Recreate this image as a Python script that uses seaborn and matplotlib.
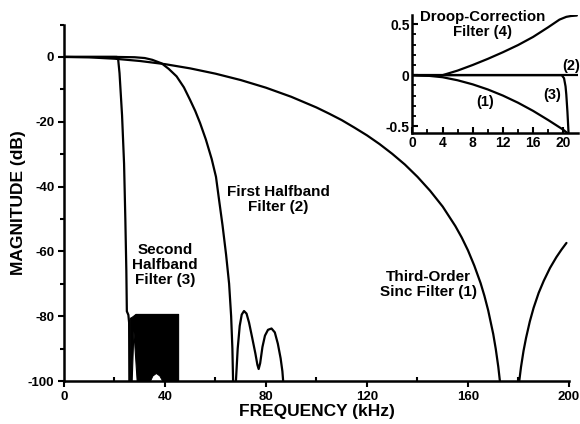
import matplotlib
matplotlib.use("Agg")
import matplotlib.pyplot as plt
import seaborn as sns
from matplotlib.ticker import MultipleLocator, FixedLocator

# ---------------- data ----------------
# Third-order sinc filter (1)
sinc_freq = [0, 10, 20, 30, 40, 50, 60, 70, 80, 90, 100, 105, 110, 115, 120, 125,
             130, 135, 140, 145, 150, 155, 157.5, 160, 162.5, 165, 166.5, 168, 170,
             171, 172, 173, 176.4, 180, 181, 182, 183, 184.5, 186, 188, 190,
             192.5, 195, 197, 199]
sinc_db = [0, -0.14, -0.55, -1.25, -2.23, -3.54, -5.17, -7.14, -9.5, -12.3, -15.6,
           -17.5, -19.5, -21.8, -24.2, -26.9, -29.9, -33.2, -37.0, -41.3, -46.2,
           -52.2, -55.7, -59.7, -64.4, -69.8, -73.7, -78.2, -85.5,
           -90.1, -95.6, -102.5, -140, -101.9, -95.7, -90.7, -86.7, -81.6, -77.4,
           -72.8, -69.1, -65.1, -61.8, -59.5, -57.4]

# First halfband filter (2)
hb1_freq = [0, 20, 28, 32, 35, 38.7, 41.5, 44.6, 47.5, 49.9, 52, 53.9, 56.2, 58.5,
            60.2, 61.4, 62.8, 64.2, 65.4, 66.2, 66.7, 67.0, 67.55,
            68.1, 68.8, 69.6, 70.4, 71.3, 72.3, 73.3, 74.5, 75.8, 76.6, 77.1, 77.7,
            78.6, 79.6, 80.8, 82.2, 83.5, 84.7, 85.8, 86.5, 86.9]
hb1_db = [0, 0, -0.1, -0.35, -0.9, -2.0, -3.7, -6.0, -9.4, -13.2, -16.7, -20.4,
          -25.5, -31.5, -37, -44, -52, -61, -70, -80, -90, -101, -125,
          -100, -90, -83, -79.5, -78.4, -79.2, -82, -86.5, -91.5, -95, -96.3, -94.5,
          -89.5, -86, -84.2, -83.8, -85, -88.5, -93, -97, -101]

# Second halfband filter (3): transition band
hb2_freq = [0, 21.0, 21.4, 22.0, 23.0, 23.8, 24.3, 24.7, 24.9, 25.5, 25.8, 25.9]
hb2_db = [0, 0, -0.3, -5, -18, -33, -50, -66, -78.5, -79.6, -82, -101]

# Second halfband filter (3): dense stopband ripple envelope
sb_freq = [26.1, 26.8, 27.5, 28.3, 28.8, 34.0, 35.0, 36.4, 37.8, 39.0, 45.2]
sb_top = [-80.5, -80.2, -79.8, -79.3, -79.3, -79.3, -79.3, -79.3, -79.3, -79.3, -79.3]
sb_floor = [-100, -100, -84.5, -94, -100, -100, -98.3, -97.5, -98.3, -100, -100]

# Inset (passband detail)
in_sinc_freq = [0, 2, 4, 6, 8, 10, 12, 14, 16, 18, 20, 20.5]
in_sinc_db = [0, -0.005, -0.02, -0.05, -0.09, -0.14, -0.2, -0.27, -0.35, -0.44, -0.535, -0.565]
in_hb1_freq = [0, 22]
in_hb1_db = [0, 0]
in_hb2_freq = [0, 19.8, 20.1, 20.3, 20.4, 20.55, 20.7]
in_hb2_db = [0, 0, -0.03, -0.11, -0.19, -0.36, -0.57]
in_droop_freq = [0, 2, 4, 6, 8, 10, 12, 14, 16, 18, 19.5, 20.4, 21.0, 21.8]
in_droop_db = [0, -0.005, 0, 0.045, 0.10, 0.16, 0.225, 0.295, 0.375, 0.47, 0.545, 0.572, 0.58, 0.585]

x_major = [0, 40, 80, 120, 160, 200]
y_major = [0, -20, -40, -60, -80, -100]
in_x_major = [0, 4, 8, 12, 16, 20]
in_y_major = [0.5, 0, -0.5]

# ---------------- style ----------------
sns.set_style("ticks")
plt.rcParams["font.family"] = ["Liberation Sans", "DejaVu Sans"]
plt.rcParams["font.weight"] = "bold"
plt.rcParams["axes.labelweight"] = "bold"
for key in ["text.color", "axes.labelcolor", "xtick.color", "ytick.color", "axes.edgecolor"]:
    plt.rcParams[key] = "black"

fig = plt.figure(figsize=(5.8, 4.24), dpi=100)
ax = fig.add_axes([0.1103, 0.1014, 0.8707, 0.8408])

lw = 1.6
kw = dict(color="black", linewidth=lw, sort=False, estimator=None, ax=ax)
sns.lineplot(x=sinc_freq, y=sinc_db, **kw)
sns.lineplot(x=hb1_freq, y=hb1_db, **kw)
sns.lineplot(x=hb2_freq, y=hb2_db, **kw)
ax.fill_between(sb_freq, sb_floor, sb_top, color="black", linewidth=0.8, edgecolor="black")

ax.set_xlim(0, 200)
ax.set_ylim(-100, 10)
ax.xaxis.set_major_locator(FixedLocator(x_major))
ax.xaxis.set_minor_locator(FixedLocator([20, 60, 100, 140, 180]))
ax.yaxis.set_major_locator(FixedLocator(y_major))
ax.yaxis.set_minor_locator(FixedLocator([-90, -70, -50, -30, -10, 10]))
ax.set_xticklabels([str(v) for v in x_major])
ax.set_yticklabels([str(v) for v in y_major])

for side in ["top", "right"]:
    ax.spines[side].set_visible(False)
for side in ["left", "bottom"]:
    ax.spines[side].set_linewidth(1.8)
    ax.spines[side].set_color("black")
ax.tick_params(axis="both", which="major", direction="out", length=4, width=1.5,
               labelsize=9.5, pad=3, colors="black")
ax.tick_params(axis="x", which="minor", direction="in", length=3, width=1.5, colors="black")
ax.tick_params(axis="y", which="minor", direction="out", length=3, width=1.5, colors="black")
for lab in ax.get_xticklabels() + ax.get_yticklabels():
    lab.set_fontweight("bold")

ax.set_xlabel("FREQUENCY (kHz)", fontsize=12.5, fontweight="bold", labelpad=1, color="black")
ax.set_ylabel("MAGNITUDE (dB)", fontsize=12.5, fontweight="bold", labelpad=1, color="black")

tkw = dict(ha="center", va="center", fontsize=11, fontweight="bold", linespacing=1.05,
           color="black")
ax.text(85, -44, "First Halfband\nFilter (2)", **tkw)
ax.text(40, -64.2, "Second\nHalfband\nFilter (3)", **tkw)
ax.text(144.2, -70.3, "Third-Order\nSinc Filter (1)", **tkw)

# ---------------- inset ----------------
ins = fig.add_axes([0.7109, 0.6856, 0.2863, 0.2790])
ins.patch.set_alpha(0)
ikw = dict(color="black", linewidth=lw, sort=False, estimator=None, ax=ins)
sns.lineplot(x=in_hb1_freq, y=in_hb1_db, **ikw)
sns.lineplot(x=in_sinc_freq, y=in_sinc_db, **ikw)
sns.lineplot(x=in_hb2_freq, y=in_hb2_db, **ikw)
sns.lineplot(x=in_droop_freq, y=in_droop_db, **ikw)
ins.set_xlim(0, 22)
ins.set_ylim(-0.57, 0.59)
ins.xaxis.set_major_locator(FixedLocator(in_x_major))
ins.xaxis.set_minor_locator(FixedLocator([2, 6, 10, 14, 18]))
ins.yaxis.set_major_locator(FixedLocator(in_y_major))
ins.yaxis.set_minor_locator(MultipleLocator(0.1))
ins.set_xticklabels([str(v) for v in in_x_major])
ins.set_yticklabels(["0.5", "0", "-0.5"])
for side in ["top", "right"]:
    ins.spines[side].set_visible(False)
for side in ["left", "bottom"]:
    ins.spines[side].set_linewidth(1.8)
    ins.spines[side].set_color("black")
ins.tick_params(axis="both", which="major", direction="in", length=4, width=1.5,
                labelsize=10, pad=2, colors="black")
ins.tick_params(axis="both", which="minor", direction="in", length=3, width=1.3,
                colors="black")
for lab in ins.get_xticklabels() + ins.get_yticklabels():
    lab.set_fontweight("bold")

ins.text(9.36, 0.5, "Droop-Correction\nFilter (4)", ha="center", va="center",
         fontsize=10.8, fontweight="bold", linespacing=1.1, clip_on=False, color="black")
ins.text(21.0, 0.088, "(2)", ha="center", va="center", fontsize=10.5, fontweight="bold",
         color="black")
ins.text(18.5, -0.196, "(3)", ha="center", va="center", fontsize=10.5, fontweight="bold",
         color="black")
ins.text(9.63, -0.265, "(1)", ha="center", va="center", fontsize=10.5, fontweight="bold",
         color="black")

fig.savefig("out.png", dpi=100)
